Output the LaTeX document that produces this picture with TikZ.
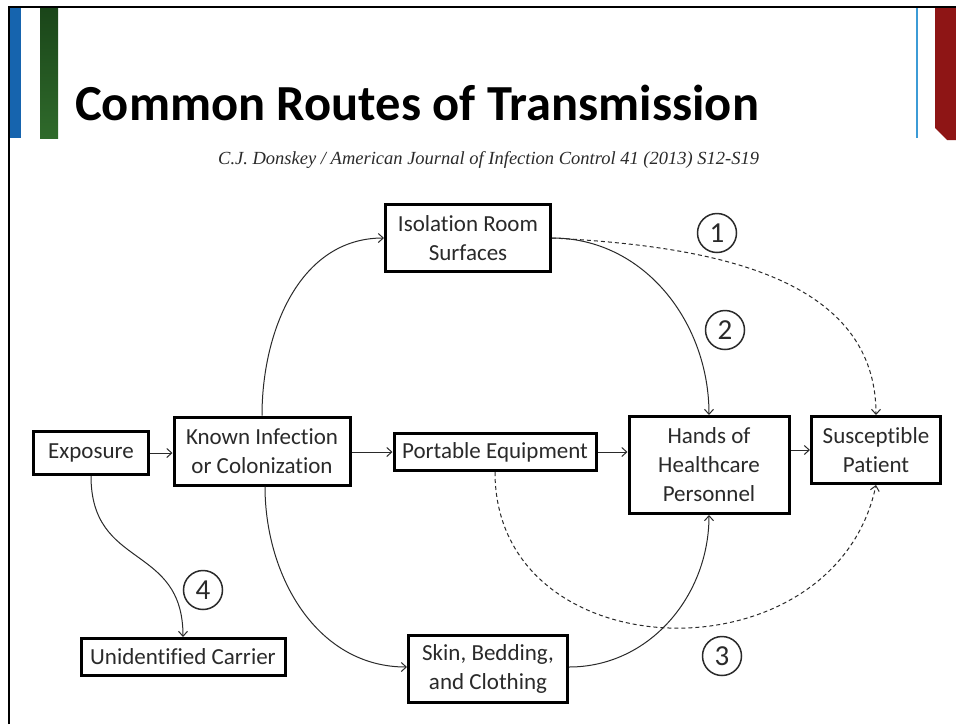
\documentclass[tikz,border=0pt]{standalone}
\usepackage{fontspec}
\setmainfont{Carlito}[Ligatures=NoCommon]
\newfontfamily\citefont{Liberation Serif}
\usetikzlibrary{arrows.meta}
\definecolor{txt}{HTML}{2A2A2A}
\definecolor{barblue}{HTML}{1664AE}
\definecolor{greentop}{HTML}{1A4519}
\definecolor{greenbot}{HTML}{2F6A2B}
\definecolor{lineblue}{HTML}{3C9BD6}
\definecolor{barred}{HTML}{8E1515}
\begin{document}
\begin{tikzpicture}[x=1pt,y=1pt,
  box/.style={draw=black, line width=3pt, text=txt, align=center, inner sep=0pt,
    font=\fontsize{23}{29}\selectfont},
  conn/.style={line width=1pt, draw=txt, -{Straight Barb[length=5pt,width=9pt]}},
  dconn/.style={conn, dash pattern=on 4pt off 3pt},
  num/.style={circle, draw=txt, line width=1.5pt, minimum size=39pt, inner sep=0pt,
    text=txt, font=\fontsize{29}{29}\selectfont}]
\useasboundingbox (0,0) rectangle (956,-724);
\fill[white] (0,0) rectangle (956,-724);
% header decoration
\fill[barblue] (10,-8) rectangle (21,-138);
\shade[top color=greentop, bottom color=greenbot] (40,-8) rectangle (58,-138);
\draw[lineblue, line width=1.8pt] (917,-8) -- (917,-138);
\fill[barred] (935,-8) -- (956,-8) -- (956,-140) -- (947,-140) -- (935,-128) -- cycle;
\draw[black, line width=2.4pt] (9,-724) -- (9,-7) -- (956,-7);
% title and citation
\node[anchor=base west, inner sep=0pt, font=\fontsize{50.5}{50}\selectfont\bfseries] (title) at (75,-120) {Common Routes of Transmission};
\node[anchor=base west, inner sep=0pt, text=txt, font=\citefont\itshape\fontsize{18.5}{19}\selectfont] (cite) at (218,-164) {C.J. Donskey / American Journal of Infection Control 41 (2013) S12-S19};
% nodes
\node[box, minimum width=115pt, minimum height=43pt] (exp) at (91,-453) {Exposure};
\node[box, minimum width=176pt, minimum height=68pt] (known) at (262,-451) {Known Infection\\or Colonization};
\node[box, minimum width=165pt, minimum height=67pt] (iso) at (468,-238) {Isolation Room\\Surfaces};
\node[box, minimum width=202pt, minimum height=37pt] (port) at (495,-452) {Portable Equipment};
\node[box, minimum width=160pt, minimum height=97pt] (hands) at (709,-465) {Hands of\\Healthcare\\Personnel};
\node[box, minimum width=129pt, minimum height=67pt] (pat) at (876,-450) {Susceptible\\Patient};
\node[box, minimum width=204pt, minimum height=37pt] (carrier) at (183,-657) {Unidentified Carrier};
\node[box, minimum width=159pt, minimum height=67pt] (skin) at (488,-669) {Skin, Bedding,\\and Clothing};
% numbers
\node[num] (n1) at (717,-233) {1};
\node[num] (n2) at (725,-330) {2};
\node[num] (n3) at (722,-656) {3};
\node[num] (n4) at (203,-590) {4};
% connectors
\draw[conn] (exp.east) -- (exp.east -| known.west);
\draw[conn] (known.east |- port.west) -- (port.west);
\draw[conn] (port.east) -- (port.east -| hands.west);
\draw[conn] (hands.east |- pat.west) -- (pat.west);
\draw[conn] (known.north) to[out=90, in=180] (iso.west);
\draw[conn] ([xshift=3pt]known.south) to[out=-90, in=180] ([yshift=2pt]skin.west);
\draw[conn] (iso.east) to[out=0, in=90] (hands.north);
\draw[dconn] (iso.east) to[out=-3, in=90] (pat.north);
\draw[conn] ([yshift=2pt]skin.east) to[out=0, in=-90] (hands.south);
\draw[dconn] (port.south) to[out=-90, in=-102, looseness=1.35] (pat.south);
\draw[conn] (exp.south) to[out=-90, in=90, looseness=1.3] (carrier.north);
\end{tikzpicture}
\end{document}
